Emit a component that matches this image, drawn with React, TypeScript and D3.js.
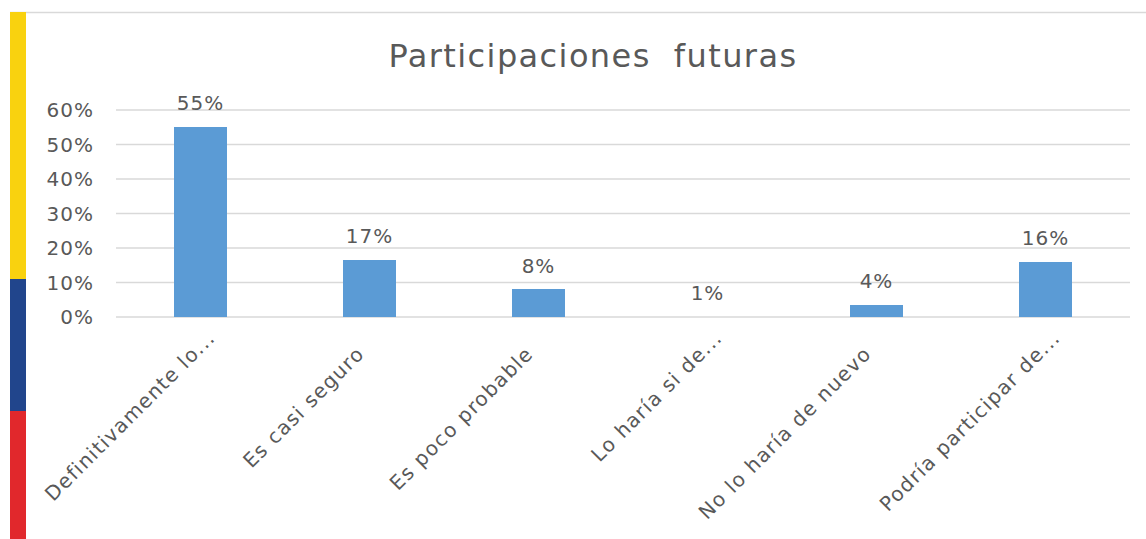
import { useEffect, useRef } from "react";
import * as d3 from "d3";

const categories = [
  "Definitivamente lo...",
  "Es casi seguro",
  "Es poco probable",
  "Lo haría si de...",
  "No lo haría de nuevo",
  "Podría participar de...",
];
const values = [55, 16.5, 8, 0.1, 3.5, 16];
const valueLabels = ["55%", "17%", "8%", "1%", "4%", "16%"];
const yTicks = [0, 10, 20, 30, 40, 50, 60];

const FONT = "'DejaVu Sans', sans-serif";
const TEXT = "#595959";

const App = () => {
  const ref = useRef<SVGSVGElement | null>(null);

  useEffect(() => {
    const el = ref.current;
    if (!el) return;
    const svg = d3.select(el);
    svg.selectAll("*").remove();

    const W = 1146, H = 539;
    const plot = { left: 116, right: 1130, top: 110, bottom: 317 };

    svg.append("rect").attr("width", W).attr("height", H).attr("fill", "#fff");

    // frame top line + flag stripe
    svg.append("line")
      .attr("x1", 10).attr("x2", W).attr("y1", 12.5).attr("y2", 12.5)
      .attr("stroke", "#d9d9d9").attr("stroke-width", 1.5);
    const flag = [
      { y0: 12, y1: 279, c: "#f9d20f" },
      { y0: 279, y1: 411, c: "#21458c" },
      { y0: 411, y1: 539, c: "#e1282c" },
    ];
    flag.forEach(f => {
      svg.append("rect")
        .attr("x", 10).attr("y", f.y0).attr("width", 16).attr("height", f.y1 - f.y0)
        .attr("fill", f.c);
    });

    // title
    svg.append("text")
      .attr("x", 593).attr("y", 67)
      .attr("text-anchor", "middle")
      .style("font-family", FONT).style("font-size", "32px")
      .style("letter-spacing", "1.4px")
      .style("fill", TEXT)
      .attr("xml:space", "preserve")
      .text("Participaciones  futuras");

    const x = d3.scaleBand().domain(categories).range([plot.left, plot.right]).paddingInner(0.69).paddingOuter(0.345);
    const y = d3.scaleLinear().domain([0, 60]).range([plot.bottom, plot.top]);

    // grid
    const g = svg.append("g");
    g.selectAll(".grid")
      .data(yTicks)
      .enter().append("line")
      .attr("x1", plot.left).attr("x2", plot.right)
      .attr("y1", d => y(d)).attr("y2", d => y(d))
      .attr("stroke", "#d9d9d9").attr("stroke-width", 1.5);

    // y labels
    g.selectAll(".ylab")
      .data(yTicks)
      .enter().append("text")
      .attr("x", 94).attr("y", d => y(d))
      .attr("dy", "0.36em")
      .attr("text-anchor", "end")
      .style("font-family", FONT).style("font-size", "20px")
      .style("letter-spacing", "1px")
      .style("fill", TEXT)
      .text(d => `${d}%`);

    // bars
    g.selectAll(".bar")
      .data(values)
      .enter().append("rect")
      .attr("x", (_, i) => x(categories[i])!)
      .attr("y", d => y(d))
      .attr("width", x.bandwidth())
      .attr("height", d => plot.bottom - y(d))
      .attr("shape-rendering", "crispEdges")
      .attr("fill", "#5b9bd5");

    // value labels
    g.selectAll(".vlab")
      .data(values)
      .enter().append("text")
      .attr("x", (_, i) => x(categories[i])! + x.bandwidth() / 2)
      .attr("y", d => y(d) - 24)
      .attr("dy", "0.36em")
      .attr("text-anchor", "middle")
      .style("font-family", FONT).style("font-size", "20px")
      .style("letter-spacing", "1px")
      .style("fill", TEXT)
      .text((_, i) => valueLabels[i]);

    // x labels (rotated, right end at the tick)
    g.selectAll(".xlab")
      .data(categories)
      .enter().append("text")
      .attr("transform", d => {
        const c = x(d)! + x.bandwidth() / 2;
        const dots = d.endsWith("...");
        return `translate(${dots ? c + 16 : c - 4},${dots ? 339 : 355}) rotate(-45)`;
      })
      .attr("text-anchor", "end")
      .style("font-family", FONT).style("font-size", "20px")
      .style("letter-spacing", "1.3px")
      .style("fill", TEXT)
      .text(d => d);

    return () => { svg.selectAll("*").remove(); };
  }, []);

  return (
    <div style={{ position: "absolute", left: 0, top: 0 }}>
      <svg ref={ref} width={1146} height={539} style={{ display: "block" }} />
    </div>
  );
};

export default App;
